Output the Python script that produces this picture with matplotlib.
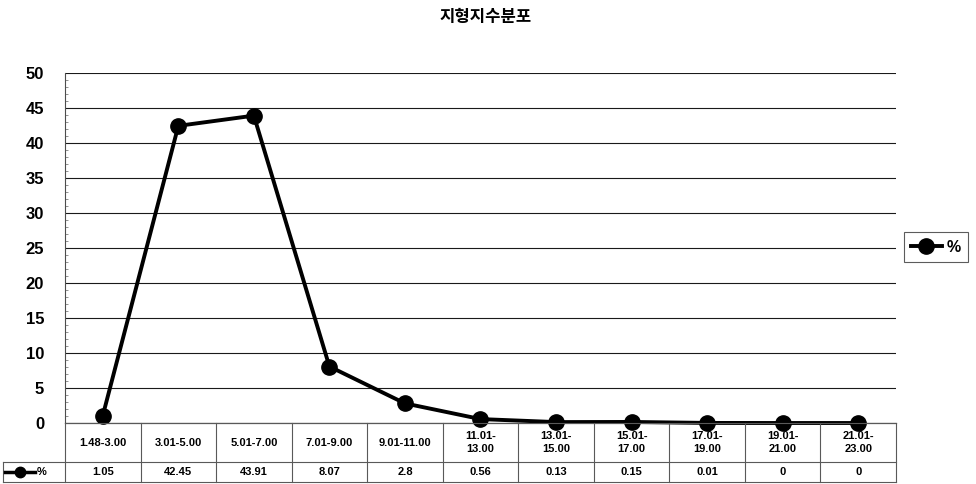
import matplotlib
matplotlib.use('Agg')
import matplotlib.pyplot as plt
from matplotlib.ticker import MultipleLocator

plt.rcParams['font.family'] = ['Liberation Sans', 'DejaVu Sans']

title = '지형지수분포'
series_name = '%'
categories = ['1.48-3.00', '3.01-5.00', '5.01-7.00', '7.01-9.00', '9.01-11.00',
              '11.01-\n13.00', '13.01-\n15.00', '15.01-\n17.00', '17.01-\n19.00',
              '19.01-\n21.00', '21.01-\n23.00']
values = [1.05, 42.45, 43.91, 8.07, 2.8, 0.56, 0.13, 0.15, 0.01, 0, 0]
y_ticks = [0, 5, 10, 15, 20, 25, 30, 35, 40, 45, 50]

W, H = 976, 484
fig = plt.figure(figsize=(W / 100, H / 100), dpi=100)

# plot area in pixels
left, right, top, bottom = 65, 896, 73, 423
ax = fig.add_axes([left / W, 1 - bottom / H, (right - left) / W, (bottom - top) / H])

x = list(range(len(categories)))
line, = ax.plot(x, values, color='black', lw=2.8, marker='o', ms=11,
                clip_on=False, zorder=5, label=series_name)
ax.set_xlim(-0.5, len(categories) - 0.5)
ax.set_ylim(0, 50)
ax.set_yticks(y_ticks)
ax.set_yticklabels([str(t) for t in y_ticks], fontsize=12, fontweight='bold')
ax.yaxis.set_minor_locator(MultipleLocator(1))
ax.tick_params(axis='y', which='major', length=0, pad=15)
ax.tick_params(axis='y', which='minor', direction='in', length=2, width=0.5, color='0.4')
ax.set_xticks([])
ax.grid(axis='y', color='0.1', lw=0.8)
ax.set_axisbelow(True)
for s in ['top', 'right']:
    ax.spines[s].set_visible(False)
ax.spines['left'].set_color('0.3')
ax.spines['left'].set_linewidth(0.8)
ax.spines['bottom'].set_color('0.1')
ax.spines['bottom'].set_linewidth(0.8)

# data table under the plot
t_top, t_mid, t_bot = 423, 462, 482
tab = fig.add_axes([left / W, 1 - t_bot / H, (right - left) / W, (t_bot - t_top) / H])
tab.set_xlim(-0.5, len(categories) - 0.5)
tab.set_ylim(t_bot - t_top, 0)
tab.axis('off')
mid = t_mid - t_top
end = t_bot - t_top
px = (right - left) / len(categories)
lab_left = -0.5 - (left - 3) / px
bc = dict(color='0.35', lw=0.8, clip_on=False)
tab.plot([-0.5, len(categories) - 0.5], [0, 0], **bc)
tab.plot([lab_left, len(categories) - 0.5], [mid, mid], **bc)
tab.plot([lab_left, len(categories) - 0.5], [end, end], **bc)
tab.plot([lab_left, lab_left], [mid, end], **bc)
for i in range(len(categories) + 1):
    tab.plot([i - 0.5, i - 0.5], [0, end], **bc)
for i, (c, v) in enumerate(zip(categories, values)):
    tab.text(i, mid / 2, c, ha='center', va='center', fontsize=8, fontweight='bold',
             linespacing=1.45)
    tab.text(i, (mid + end) / 2, f'{v:g}', ha='center', va='center', fontsize=8,
             fontweight='bold')
# legend key in the row label cell
k0 = lab_left + 2 / px
tab.plot([k0, k0 + 30 / px], [(mid + end) / 2] * 2, color='black', lw=2.5, clip_on=False)
tab.plot([k0 + 15 / px], [(mid + end) / 2], 'o', color='black', ms=7.5, clip_on=False)
tab.text(k0 + 32 / px, (mid + end) / 2, series_name, ha='left', va='center',
         fontsize=8, fontweight='bold')

# legend on the right
leg = fig.legend(handles=[line], loc='center left',
                 bbox_to_anchor=(904 / W, 1 - 247 / H), frameon=True, fancybox=False,
                 handlelength=1.9, handletextpad=0.3, borderpad=0.45, borderaxespad=0,
                 prop={'weight': 'bold', 'size': 11.5})
leg.get_frame().set_edgecolor('0.2')
leg.get_frame().set_linewidth(0.8)

fig.text(486 / W, 1 - 17 / H, title, ha='center', va='center', fontsize=12,
         fontweight='bold', family=['Noto Sans CJK KR', 'DejaVu Sans'])

fig.savefig('out.png', dpi=100)
